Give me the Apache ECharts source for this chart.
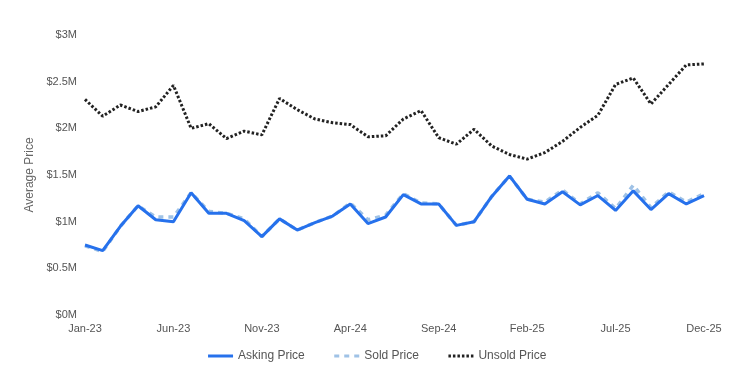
<!DOCTYPE html>
<html>
<head>
<meta charset="utf-8">
<script src="https://cdn.jsdelivr.net/npm/echarts@6/dist/echarts.min.js"></script>
<style>html,body{margin:0;padding:0;background:#fff}#c{width:753px;height:380px}</style>
</head>
<body>
<div id="c"></div>
<script>
const categories = ['Jan-23','Feb-23','Mar-23','Apr-23','May-23','Jun-23','Jul-23','Aug-23','Sep-23','Oct-23','Nov-23','Dec-23',
  'Jan-24','Feb-24','Mar-24','Apr-24','May-24','Jun-24','Jul-24','Aug-24','Sep-24','Oct-24','Nov-24','Dec-24',
  'Jan-25','Feb-25','Mar-25','Apr-25','May-25','Jun-25','Jul-25','Aug-25','Sep-25','Oct-25','Nov-25','Dec-25'];
// values in $M
const askingPrice = [0.75,0.69,0.95,1.17,1.02,1.00,1.31,1.09,1.09,1.01,0.84,1.03,
  0.91,0.99,1.06,1.19,0.98,1.05,1.29,1.19,1.19,0.96,1.00,1.27,
  1.49,1.24,1.19,1.32,1.18,1.28,1.12,1.33,1.13,1.30,1.19,1.28];
const soldPrice = [0.74,0.68,0.95,1.17,1.05,1.05,1.31,1.11,1.09,1.03,0.84,1.03,
  0.91,0.99,1.06,1.20,1.02,1.07,1.30,1.20,1.19,0.96,1.00,1.27,
  1.49,1.24,1.21,1.34,1.19,1.31,1.14,1.39,1.15,1.32,1.21,1.30];
const unsoldPrice = [2.31,2.13,2.25,2.18,2.23,2.46,2.00,2.05,1.89,1.97,1.93,2.32,
  2.20,2.10,2.06,2.04,1.91,1.92,2.10,2.19,1.90,1.83,1.99,1.81,
  1.72,1.67,1.74,1.86,2.01,2.14,2.47,2.54,2.26,2.47,2.68,2.69];
const yTicks = [0, 0.5, 1, 1.5, 2, 2.5, 3];

const chart = echarts.init(document.getElementById('c'));
const font = 'Arial, "Liberation Sans", sans-serif';
chart.setOption({
  animation: false,
  textStyle: { fontFamily: font },
  grid: { left: 85, right: 49, top: 35, bottom: 65 },
  legend: {
    bottom: 13, left: 'center', itemWidth: 25, itemHeight: 12, itemGap: 28,
    itemStyle: { opacity: 0 },
    lineStyle: { width: 3 },
    textStyle: { fontFamily: font, fontSize: 12, color: '#555' },
    data: ['Asking Price', 'Sold Price', 'Unsold Price']
  },
  xAxis: {
    type: 'category', data: categories, boundaryGap: false,
    axisLine: { show: false }, axisTick: { show: false },
    axisLabel: { interval: 4, color: '#555', fontSize: 11, margin: 8, fontFamily: font,
      formatter: (v, i) => (i % 5 === 0 ? v : '') }
  },
  yAxis: {
    type: 'value', min: yTicks[0], max: yTicks[yTicks.length - 1], interval: 0.5,
    name: 'Average Price', nameLocation: 'middle', nameGap: 47,
    nameTextStyle: { color: '#666', fontSize: 12, fontFamily: font },
    axisLine: { show: false }, axisTick: { show: false }, splitLine: { show: false },
    axisLabel: { color: '#555', fontSize: 11, margin: 8, fontFamily: font,
      formatter: v => '$' + v + 'M' }
  },
  series: [
    { name: 'Asking Price', type: 'line', data: askingPrice, symbol: 'none', z: 4,
      lineStyle: { color: '#2671ec', width: 3 }, itemStyle: { color: '#2671ec' } },
    { name: 'Sold Price', type: 'line', data: soldPrice, symbol: 'none', z: 3,
      lineStyle: { color: '#9fc2e6', width: 3.5, type: [5, 5] }, itemStyle: { color: '#9fc2e6' } },
    { name: 'Unsold Price', type: 'line', data: unsoldPrice, symbol: 'none', z: 2,
      lineStyle: { color: '#222', width: 3, type: [2.5, 2] }, itemStyle: { color: '#222' } }
  ]
});
</script>
</body>
</html>
